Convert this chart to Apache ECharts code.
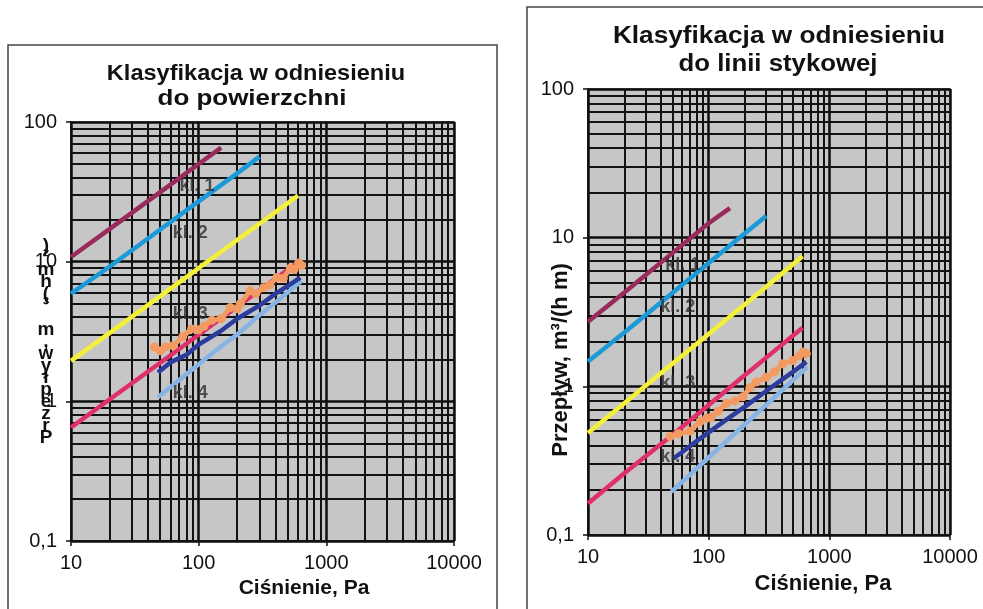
<!DOCTYPE html>
<html><head><meta charset="utf-8">
<script src="https://cdn.jsdelivr.net/npm/echarts@6/dist/echarts.min.js"></script>
<style>html,body{margin:0;padding:0;background:#fff}#c{width:983px;height:609px}</style>
</head><body><div id="c"></div>
<script>
// ===== Left chart: "w odniesieniu do powierzchni" — Ciśnienie [Pa] vs Przepływ [m3/(h m2)]
const kl1P_L = [10, 20, 50, 100, 150];
const kl1Q_L = [10.8, 17.1, 31.5, 50, 65.5];
const kl2P_L = [10, 20, 50, 100, 200, 300];
const kl2Q_L = [5.9, 9.2, 17.0, 27, 42.9, 56.5];
const kl3P_L = [10, 20, 50, 100, 200, 300, 600];
const kl3Q_L = [1.95, 3.08, 5.67, 9.0, 14.3, 18.7, 29.7];
const kl4P_L = [10, 20, 50, 100, 200, 300, 600];
const kl4Q_L = [0.65, 1.03, 1.89, 3.0, 4.76, 6.24, 9.9];
const measOrangeP_L = [45, 50, 55, 63, 75, 88, 100, 110, 127, 150, 177, 200, 212, 253, 280, 322, 360, 410, 460, 522, 560, 607, 640];
const measOrangeQ_L = [2.45, 2.3, 2.45, 2.5, 2.9, 3.3, 3.25, 3.45, 3.8, 3.9, 4.7, 4.6, 5.0, 6.2, 5.9, 6.5, 6.8, 7.7, 7.6, 9.0, 8.8, 9.8, 9.4];
const measDarkP_L = [48, 60, 80, 100, 150, 200, 300, 400, 500, 625];
const measDarkQ_L = [1.61, 1.9, 2.15, 2.55, 3.2, 3.9, 4.85, 5.9, 6.7, 7.7];
const measLightP_L = [48, 60, 80, 100, 150, 200, 300, 400, 500, 640];
const measLightQ_L = [1.07, 1.26, 1.56, 1.84, 2.48, 3.0, 4.15, 5.1, 6.05, 7.3];

// ===== Right chart: "w odniesieniu do linii stykowej" — Przepływ [m3/(h m)]
const kl1P_R = [10, 20, 50, 100, 150];
const kl1Q_R = [2.72, 4.27, 7.87, 12.5, 15.8];
const kl2P_R = [10, 20, 50, 100, 200, 300];
const kl2Q_R = [1.47, 2.30, 4.25, 6.75, 10.7, 14.0];
const kl3P_R = [10, 20, 50, 100, 200, 300, 600];
const kl3Q_R = [0.485, 0.77, 1.42, 2.25, 3.57, 4.68, 7.5];
const kl4P_R = [10, 20, 50, 100, 200, 300, 600];
const kl4Q_R = [0.163, 0.26, 0.47, 0.75, 1.19, 1.56, 2.48];
const measOrangeP_R = [48, 56, 70, 85, 96, 105, 120, 140, 165, 192, 220, 248, 300, 350, 411, 496, 560, 605, 645];
const measOrangeQ_R = [0.46, 0.48, 0.5, 0.58, 0.61, 0.62, 0.68, 0.77, 0.8, 0.85, 0.98, 1.07, 1.15, 1.25, 1.42, 1.49, 1.6, 1.7, 1.66];
const measDarkP_R = [51, 60, 80, 100, 150, 200, 300, 400, 500, 645];
const measDarkQ_R = [0.327, 0.36, 0.43, 0.49, 0.62, 0.73, 0.93, 1.1, 1.25, 1.46];
const measLightP_R = [49, 60, 80, 100, 150, 200, 300, 400, 500, 660];
const measLightQ_R = [0.195, 0.227, 0.281, 0.332, 0.449, 0.556, 0.75, 0.93, 1.1, 1.35];

// class labels (text + anchor in data coordinates)
const classNames = ['kl. 1', 'kl. 2', 'kl. 3', 'kl. 4'];
const labelAnchorP_L = [97, 86, 86, 86];
const labelAnchorQ_L = [34.7, 16, 4.2, 1.15];
const labelAnchorP_R = [61, 55.5, 55.5, 55.5];
const labelAnchorQ_R = [6.5, 3.39, 1.05, 0.333];

// axis ticks
const xTicks = [10, 100, 1000, 10000];
const yTicks = [0.1, 1, 10, 100];

const FONT = 'Liberation Sans, Arial, sans-serif';
const C = {kl1:'#982a5c', kl2:'#1c9ad8', kl3:'#f4f03a', kl4:'#e0306c', orange:'#f39a62', dark:'#2b3c9c', light:'#86b4e4'};

const pairs = (P, Q) => P.map((p, i) => [p, Q[i]]);
const fmt = v => String(+(+v).toPrecision(6)).replace('.', ',');

// minor grid values (2..9 in each decade)
const minorX = [], minorY = [];
for (let d = 0; d < xTicks.length - 1; d++) for (let m = 2; m <= 9; m++) minorX.push(xTicks[d] * m);
for (let d = 0; d < yTicks.length - 1; d++) for (let m = 2; m <= 9; m++) minorY.push(+(yTicks[d] * m).toPrecision(6));

function xAxis(gi) {
  return {
    type: 'log', logBase: 10, min: 10, max: 10000, gridIndex: gi,
    axisLine: {show: true, onZero: false, lineStyle: {color: '#111', width: 1.5}},
    axisTick: {show: true, length: 5, lineStyle: {color: '#111', width: 1.5}},
    minorTick: {show: false},
    axisLabel: {fontSize: 20, color: '#111', margin: 12, fontFamily: FONT, formatter: fmt},
    splitLine: {show: true, lineStyle: {color: '#0d0d0d', width: 2.5}}
  };
}
function yAxis(gi) {
  return {
    type: 'log', logBase: 10, min: 0.1, max: 100, gridIndex: gi,
    axisLine: {show: true, onZero: false, lineStyle: {color: '#111', width: 1.5}},
    axisTick: {show: true, length: 5, lineStyle: {color: '#111', width: 1.5}},
    axisLabel: {fontSize: 20, color: '#111', margin: 14, fontFamily: FONT, formatter: fmt},
    splitLine: {show: true, lineStyle: {color: '#0d0d0d', width: 2.5}}
  };
}
function line(gi, P, Q, color, extra) {
  return Object.assign({
    type: 'line', xAxisIndex: gi, yAxisIndex: gi, data: pairs(P, Q),
    symbol: 'none', lineStyle: {color, width: 4.5}, itemStyle: {color}, silent: true, animation: false, z: 5
  }, extra || {});
}
function gridLines(gi) {
  return {
    type: 'line', xAxisIndex: gi, yAxisIndex: gi, data: [], silent: true, animation: false, z: 2,
    markLine: {
      silent: true, animation: false, symbol: ['none', 'none'], label: {show: false},
      lineStyle: {color: '#121212', width: 2, type: 'solid'},
      data: minorX.map(v => ({xAxis: v})).concat(minorY.map(v => ({yAxis: v})))
    }
  };
}
function labels(gi, P, Q) {
  return {
    type: 'scatter', xAxisIndex: gi, yAxisIndex: gi, silent: true, animation: false, z: 6,
    symbol: 'circle', symbolSize: 1, itemStyle: {color: 'rgba(0,0,0,0)'},
    data: P.map((p, i) => ({value: [p, Q[i]], name: classNames[i]})),
    label: {show: true, position: 'inside', formatter: '{b}', fontSize: 18, fontWeight: 'bold', color: '#2e2e2e', fontFamily: FONT}
  };
}
const orangeExtra = {symbol: 'circle', symbolSize: 9, showSymbol: true, z: 7, lineStyle: {color: C.orange, width: 5}};

const chart = echarts.init(document.getElementById('c'));
chart.setOption({
  backgroundColor: '#ffffff',
  animation: false,
  grid: [
    {left: 71, top: 122, width: 383, height: 419, show: true, backgroundColor: '#c6c6c6', borderColor: '#777', borderWidth: 2},
    {left: 588, top: 89, width: 362, height: 446, show: true, backgroundColor: '#c6c6c6', borderColor: '#777', borderWidth: 2}
  ],
  xAxis: [xAxis(0), xAxis(1)],
  yAxis: [yAxis(0), yAxis(1)],
  series: [
    gridLines(0), gridLines(1),
    line(0, kl1P_L, kl1Q_L, C.kl1), line(0, kl2P_L, kl2Q_L, C.kl2), line(0, kl3P_L, kl3Q_L, C.kl3), line(0, kl4P_L, kl4Q_L, C.kl4),
    line(0, measLightP_L, measLightQ_L, C.light), line(0, measDarkP_L, measDarkQ_L, C.dark),
    line(0, measOrangeP_L, measOrangeQ_L, C.orange, orangeExtra),
    line(1, kl1P_R, kl1Q_R, C.kl1), line(1, kl2P_R, kl2Q_R, C.kl2), line(1, kl3P_R, kl3Q_R, C.kl3), line(1, kl4P_R, kl4Q_R, C.kl4),
    line(1, measLightP_R, measLightQ_R, C.light), line(1, measDarkP_R, measDarkQ_R, C.dark),
    line(1, measOrangeP_R, measOrangeQ_R, C.orange, orangeExtra),
    labels(0, labelAnchorP_L, labelAnchorQ_L), labels(1, labelAnchorP_R, labelAnchorQ_R)
  ],
  graphic: [
    {type: 'rect', z: 0, silent: true, shape: {x: 8, y: 45, width: 489, height: 620}, style: {fill: 'none', stroke: '#444', lineWidth: 1.5}},
    {type: 'rect', z: 0, silent: true, shape: {x: 527, y: 7, width: 500, height: 640}, style: {fill: 'none', stroke: '#444', lineWidth: 1.5}},
    // titles
    {type: 'text', x: 256, y: 74, scaleX: 1.07, style: {text: 'Klasyfikacja w odniesieniu', font: 'bold 22px ' + FONT, fill: '#111', align: 'center', verticalAlign: 'middle'}},
    {type: 'text', x: 252, y: 99, scaleX: 1.18, style: {text: 'do powierzchni', font: 'bold 22px ' + FONT, fill: '#111', align: 'center', verticalAlign: 'middle'}},
    {type: 'text', x: 779, y: 37, scaleX: 1.14, style: {text: 'Klasyfikacja w odniesieniu', font: 'bold 23px ' + FONT, fill: '#111', align: 'center', verticalAlign: 'middle'}},
    {type: 'text', x: 778, y: 65, scaleX: 1.12, style: {text: 'do linii stykowej', font: 'bold 23px ' + FONT, fill: '#111', align: 'center', verticalAlign: 'middle'}},
    // x-axis titles
    {type: 'text', x: 304, y: 588, style: {text: 'Ciśnienie, Pa', font: 'bold 21px ' + FONT, fill: '#111', align: 'center', verticalAlign: 'middle'}},
    {type: 'text', x: 823, y: 584, style: {text: 'Ciśnienie, Pa', font: 'bold 22px ' + FONT, fill: '#111', align: 'center', verticalAlign: 'middle'}},
    // y-axis titles
    {type: 'text', x: 561, y: 360, rotation: Math.PI / 2, style: {text: 'Przepływ, m³/(h m)', font: 'bold 22px ' + FONT, fill: '#111', align: 'center', verticalAlign: 'middle'}},
    {type: 'text', x: 46, y: 240, style: {text: ')\n²\nm\nh\n(\n³\n \nm\n,\nw\ny\nł\np\ne\nz\nr\nP', font: 'bold 19px ' + FONT, lineHeight: 12, fill: '#111', align: 'center', verticalAlign: 'top'}}
  ]
});
</script></body></html>
